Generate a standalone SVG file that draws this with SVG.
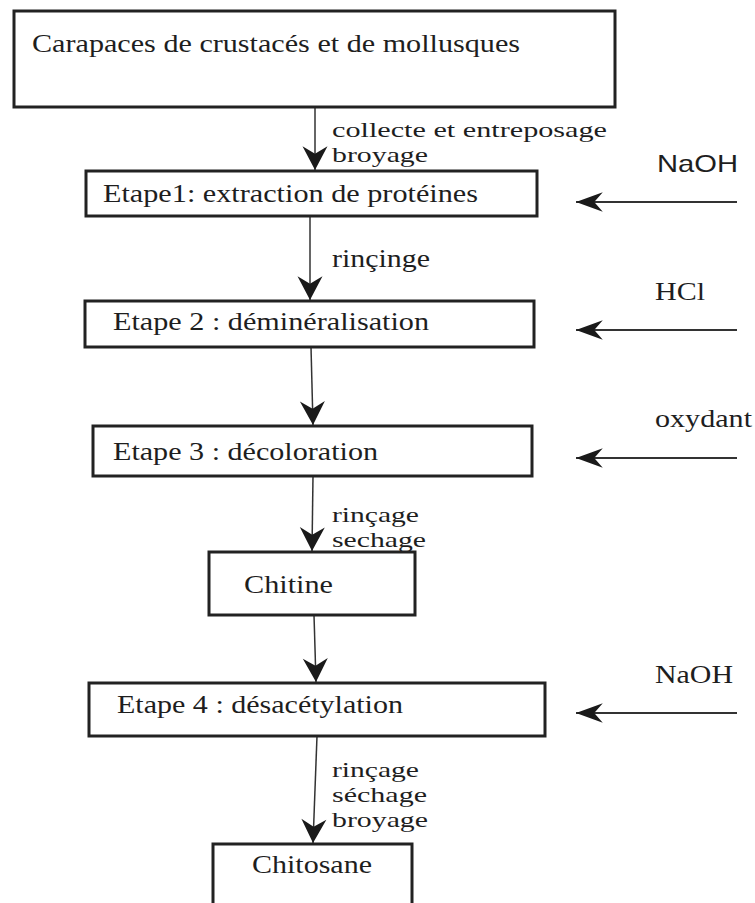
<svg xmlns="http://www.w3.org/2000/svg" width="755" height="903" viewBox="0 0 755 903">
<style>
.box{fill:#fff;stroke:#222;stroke-width:3}
.t{font-family:"Liberation Serif","Times New Roman",serif;font-size:25px;fill:#1e1e1e}
.l{font-family:"Liberation Serif","Times New Roman",serif;font-size:22px;fill:#1e1e1e}
.s{font-family:"Liberation Sans",Arial,sans-serif;font-size:24px;fill:#1e1e1e}
.c{fill:none;stroke:#333;stroke-width:1.5}
.h{fill:none;stroke:#333;stroke-width:1.8}
</style>
<defs>
<marker id="ad" markerUnits="userSpaceOnUse" markerWidth="30" markerHeight="30" refX="0" refY="0" viewBox="-22 -12 24 24" orient="auto" overflow="visible">
<path d="M0,0 L-19,-10 L-13,0 L-19,10 Z" fill="#1a1a1a"/>
</marker>
<marker id="as" markerUnits="userSpaceOnUse" markerWidth="30" markerHeight="30" refX="0" refY="0" viewBox="-27 -10 28 20" orient="auto" overflow="visible">
<path d="M0,0 L-25,-9 L-17,0 L-25,9 Z" fill="#1a1a1a"/>
</marker>
</defs>
<rect width="755" height="903" fill="#fff"/>
<g id="connectors">
<line class="c" x1="315" y1="107" x2="315" y2="170" marker-end="url(#ad)"/>
<line class="c" x1="310" y1="216" x2="310" y2="300" marker-end="url(#ad)"/>
<line class="c" x1="311" y1="347" x2="313" y2="425" marker-end="url(#ad)"/>
<line class="c" x1="313" y1="476" x2="312" y2="551" marker-end="url(#ad)"/>
<line class="c" x1="314" y1="615" x2="316" y2="682" marker-end="url(#ad)"/>
<line class="c" x1="317" y1="736" x2="313" y2="843" marker-end="url(#ad)"/>
<line class="h" x1="737" y1="202" x2="576" y2="202" marker-end="url(#as)"/>
<line class="h" x1="737" y1="330" x2="576" y2="330" marker-end="url(#as)"/>
<line class="h" x1="737" y1="458" x2="576" y2="458" marker-end="url(#as)"/>
<line class="h" x1="737" y1="713" x2="576" y2="713" marker-end="url(#as)"/>
<text class="l" x="332" y="137" textLength="275" lengthAdjust="spacingAndGlyphs">collecte et entreposage</text>
<text class="l" x="332" y="162" textLength="96" lengthAdjust="spacingAndGlyphs">broyage</text>
<text class="t" x="332" y="267" textLength="98" lengthAdjust="spacingAndGlyphs">rinçinge</text>
<text class="l" x="332" y="522" textLength="87" lengthAdjust="spacingAndGlyphs">rinçage</text>
<text class="l" x="332" y="547" textLength="94" lengthAdjust="spacingAndGlyphs">sechage</text>
<text class="l" x="332" y="777" textLength="87" lengthAdjust="spacingAndGlyphs">rinçage</text>
<text class="l" x="332" y="802" textLength="95" lengthAdjust="spacingAndGlyphs">séchage</text>
<text class="l" x="332" y="827" textLength="96" lengthAdjust="spacingAndGlyphs">broyage</text>
<text class="s" x="657" y="172" textLength="81" lengthAdjust="spacingAndGlyphs">NaOH</text>
<text class="t" x="655" y="300" textLength="50" lengthAdjust="spacingAndGlyphs">HCl</text>
<text class="t" x="655" y="427" textLength="97" lengthAdjust="spacingAndGlyphs">oxydant</text>
<text class="t" x="655" y="683" textLength="78" lengthAdjust="spacingAndGlyphs">NaOH</text>
</g>
<g id="n-carapaces">
<rect class="box" x="14" y="11" width="601" height="96"/>
<text class="t" x="32" y="52" textLength="488" lengthAdjust="spacingAndGlyphs">Carapaces de crustacés et de mollusques</text>
</g>
<g id="n-etape1">
<rect class="box" x="86" y="171" width="451" height="45"/>
<text class="t" x="103" y="202" textLength="375" lengthAdjust="spacingAndGlyphs">Etape1: extraction de protéines</text>
</g>
<g id="n-etape2">
<rect class="box" x="85" y="301" width="449" height="46"/>
<text class="t" x="113" y="330" textLength="316" lengthAdjust="spacingAndGlyphs">Etape 2 : déminéralisation</text>
</g>
<g id="n-etape3">
<rect class="box" x="93" y="426" width="439" height="50"/>
<text class="t" x="113" y="460" textLength="265" lengthAdjust="spacingAndGlyphs">Etape 3 : décoloration</text>
</g>
<g id="n-chitine">
<rect class="box" x="209" y="552" width="206" height="63"/>
<text class="t" x="244" y="593" textLength="89" lengthAdjust="spacingAndGlyphs">Chitine</text>
</g>
<g id="n-etape4">
<rect class="box" x="89" y="683" width="456" height="53"/>
<text class="t" x="117" y="713" textLength="286" lengthAdjust="spacingAndGlyphs">Etape 4 : désacétylation</text>
</g>
<g id="n-chitosane">
<rect class="box" x="213" y="844" width="199" height="70"/>
<text class="t" x="252" y="873" textLength="120" lengthAdjust="spacingAndGlyphs">Chitosane</text>
</g>
</svg>
